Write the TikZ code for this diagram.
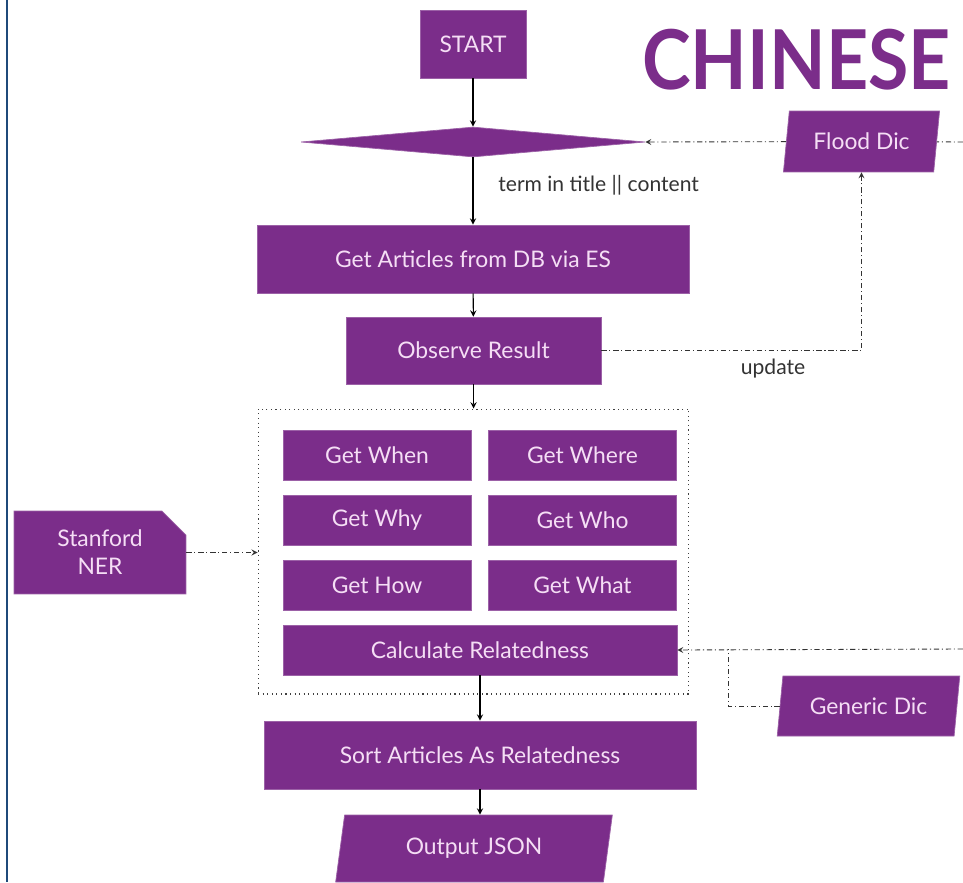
\documentclass[tikz,border=0pt]{standalone}
\usepackage{fontspec}
\setmainfont{Lato}
\usetikzlibrary{backgrounds,shapes.geometric,shapes.misc}
\definecolor{flowpurple}{RGB}{123,45,138}
\definecolor{flowtext}{RGB}{245,222,245}
\definecolor{edgeblue}{RGB}{31,74,122}

\begin{document}
\begin{tikzpicture}[x=0.02cm, y=-0.02cm,
    background rectangle/.style={fill=white}, inner frame sep=0pt, show background rectangle,
    box/.style={fill=flowpurple, draw=flowpurple!75!white, line width=0.4pt, text=flowtext,
        font=\fontsize{13}{16}\selectfont, align=center, inner sep=0pt},
    iobox/.style={box, trapezium, trapezium left angle=77, trapezium right angle=103, trapezium stretches=true},
    flow/.style={->, >=stealth, black, line width=0.6pt},
    feed/.style={black!80, line width=0.5pt, dash pattern=on 3pt off 1.6pt on 0.6pt off 1.6pt},
    note/.style={text=black!80, font=\fontsize{12}{15}\selectfont, inner sep=0pt}]
    \useasboundingbox (0,0) rectangle (963,882);
    \draw[edgeblue, line width=1.1pt] (7,0) -- (7,882);

    \node[text=flowpurple, font=\fontsize{47}{52}\selectfont\bfseries, inner sep=0pt] (title) at (796.5,60) {\scalebox{0.89}[1]{CHINESE}};

    \node[box, minimum width=2.12cm, minimum height=1.36cm] (start) at (473,44) {START};
    \node[box, diamond, minimum width=6.88cm, minimum height=0.6cm] (dia) at (473,142) {};
    \node[box, minimum width=8.64cm, minimum height=1.36cm] (articles) at (473,259) {Get Articles from DB via ES};
    \node[box, minimum width=5.1cm, minimum height=1.34cm] (observe) at (473.5,350.5) {Observe Result};
    \node[iobox, minimum width=3.14cm, minimum height=1.22cm] (flood) at (861.5,141.5) {Flood Dic};

    \node[draw=black!75, dotted, line width=0.6pt, minimum width=8.62cm, minimum height=5.7cm] (grp) at (473.5,551.5) {};
    \foreach \name/\txt/\x/\y in {when/Get When/377/455, where/Get Where/582.5/455,
        why/Get Why/377/520, who/Get Who/582.5/520,
        how/Get How/377/585, what/Get What/582.5/585} {
        \node[box, minimum width=3.76cm, minimum height=1cm] (\name) at (\x,\y) {\txt};
    }
    \node[box, minimum width=7.88cm, minimum height=1cm] (calc) at (480,650) {Calculate Relatedness};

    \node[box, chamfered rectangle, chamfered rectangle corners=north east, chamfered rectangle xsep=0.24cm,
        chamfered rectangle ysep=0.24cm, minimum width=3.44cm, minimum height=1.66cm] (ner) at (100,552.5) {Stanford\\NER};
    \node[iobox, minimum width=3.66cm, minimum height=1.2cm] (generic) at (868.5,706) {Generic Dic};

    \node[box, minimum width=8.64cm, minimum height=1.36cm] (sort) at (480,755) {Sort Articles As Relatedness};
    \node[iobox, minimum width=5.56cm, minimum height=1.34cm] (output) at (474,848.5) {Output JSON};

    \draw[flow] (start) -- (dia);
    \draw[flow] (dia) -- (articles);
    \draw[flow] (articles) -- (observe);
    \draw[flow] (observe) -- (grp);
    \draw[flow] (calc.south) -- (sort.north);
    \draw[flow] (sort.south) -- (sort.south |- output.north);

    \node[note, anchor=west] (cond) at (498,185) {term in title || content};

    \coordinate (floodin) at (963,142);
    \coordinate (genin) at (963,649);
    \coordinate (genjoin) at (728,649);
    \draw[feed] (floodin) -- (flood);
    \draw[feed, ->, >=stealth] (flood) -- (dia.east);
    \draw[feed, ->, >=stealth] (observe.east) -| (flood.south) node[pos=0.33, below=0.17cm, note] (upd) {update};
    \draw[feed, ->, >=stealth] (ner.east) -- (grp.west |- ner.east);
    \draw[feed, ->, >=stealth] (genin) -- (calc.east);
    \draw[feed] (generic.west) -| (genjoin);
\end{tikzpicture}
\end{document}
